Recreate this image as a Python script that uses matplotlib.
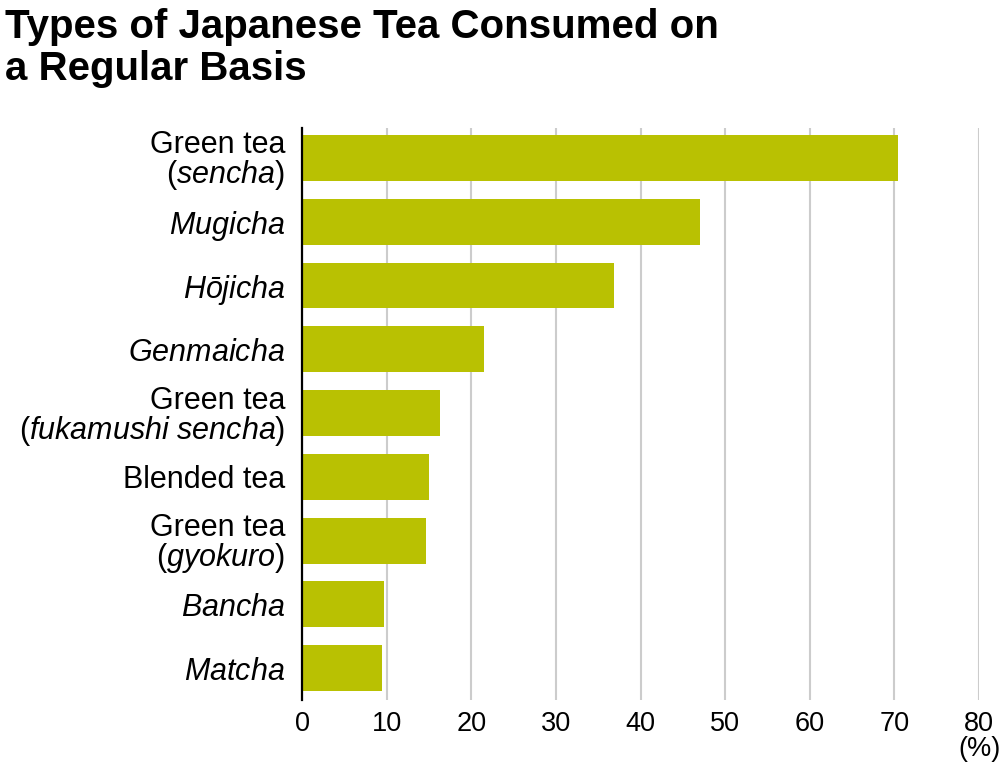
import matplotlib
matplotlib.use("Agg")
import matplotlib.pyplot as plt

# -------------------------- 数据 --------------------------
tea_labels = [
    "Green tea\n($\\mathit{sencha}$)",
    "$\\mathit{Mugicha}$",
    "$\\mathit{Hōjicha}$",
    "$\\mathit{Genmaicha}$",
    "Green tea\n($\\mathit{fukamushi\\ sencha}$)",
    "Blended tea",
    "Green tea\n($\\mathit{gyokuro}$)",
    "$\\mathit{Bancha}$",
    "$\\mathit{Matcha}$",
]
tea_values = [70.4, 47.0, 36.9, 21.5, 16.3, 15.0, 14.7, 9.7, 9.4]
x_ticks = [0, 10, 20, 30, 40, 50, 60, 70, 80]
x_tick_labels = ["0", "10", "20", "30", "40", "50", "60", "70", "80\n(%)"]
title = "Types of Japanese Tea Consumed on\na Regular Basis"

# -------------------------- 样式 --------------------------
plt.rcParams["font.family"] = ["Liberation Sans", "DejaVu Sans"]
plt.rcParams["mathtext.fontset"] = "custom"
plt.rcParams["mathtext.rm"] = "Liberation Sans"
plt.rcParams["mathtext.it"] = "Liberation Sans:italic"
plt.rcParams["mathtext.bf"] = "Liberation Sans:bold"

bar_color = "#b9c102"
grid_color = "#cccccc"

fig = plt.figure(figsize=(10, 7.73), dpi=100)
ax = fig.add_axes([0.302, 0.0944, 0.677, 0.74])

y_pos = list(range(len(tea_values)))
ax.barh(y_pos, tea_values, height=0.72, color=bar_color, zorder=3)

ax.set_xlim(0, 80)
ax.set_ylim(8.5, -0.47)

# 竖向网格线
ax.set_xticks(x_ticks)
ax.set_xticklabels(x_tick_labels, fontsize=19.5, linespacing=0.95)
ax.xaxis.grid(True, color=grid_color, linewidth=1.5, zorder=0)
ax.set_axisbelow(True)

ax.set_yticks(y_pos)
ax.set_yticklabels(tea_labels, fontsize=22, linespacing=0.92)

ax.tick_params(axis="both", length=0)
ax.tick_params(axis="x", pad=8)
ax.tick_params(axis="y", pad=12)

for side in ["top", "right", "bottom"]:
    ax.spines[side].set_visible(False)
ax.spines["left"].set_linewidth(1.6)
ax.spines["left"].set_color("black")
ax.spines["left"].set_zorder(4)

# 标题
fig.text(0.005, 0.99, title, fontsize=29, fontweight="bold",
         ha="left", va="top", linespacing=1.13)

plt.savefig("out.png", dpi=100)
